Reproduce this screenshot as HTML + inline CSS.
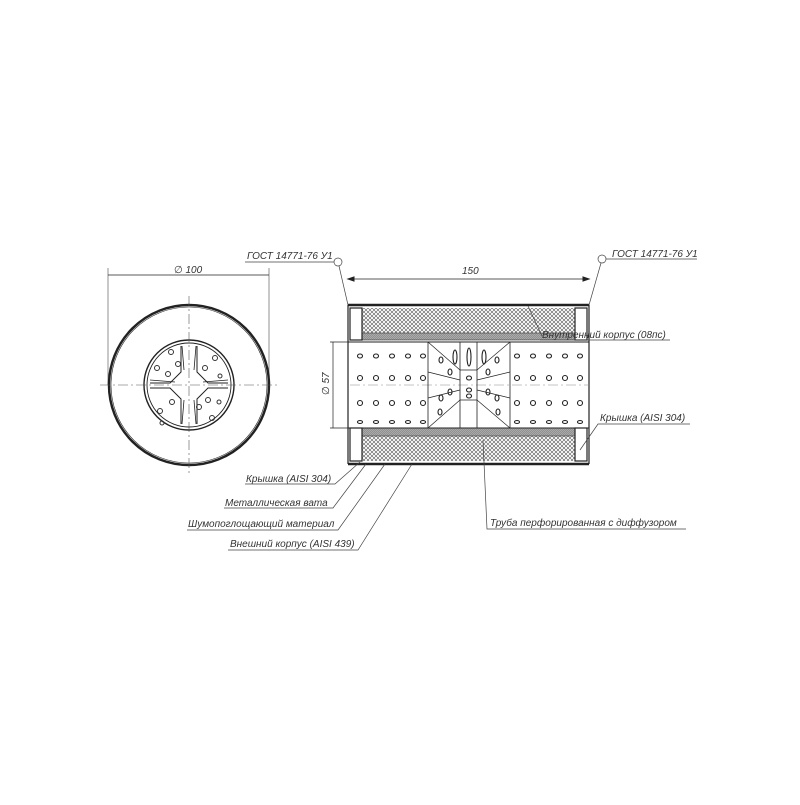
<!DOCTYPE html>
<html><head><meta charset="utf-8"><style>
html,body{margin:0;padding:0;background:#fff}
svg text{font-family:"Liberation Sans","DejaVu Sans",sans-serif;font-style:italic;font-size:10px;fill:#333}
</style></head><body>
<svg width="800" height="800" viewBox="0 0 800 800" xmlns="http://www.w3.org/2000/svg">
<defs>
<pattern id="x" width="4" height="4" patternUnits="userSpaceOnUse">
<path d="M0 0L4 4M4 0L0 4" stroke="#555" stroke-width="0.6"/>
</pattern>
<pattern id="g" width="2" height="2" patternUnits="userSpaceOnUse">
<rect width="2" height="2" fill="#aaa"/><path d="M0 2L2 0" stroke="#777" stroke-width="0.5"/>
</pattern>
</defs>
<rect width="800" height="800" fill="#fff"/>
<g stroke="#222" fill="none">
<circle cx="189" cy="385" r="80" stroke-width="2.5"/>
<circle cx="189" cy="385" r="78" stroke-width="0.6"/>
<circle cx="189" cy="385" r="45" stroke-width="1.4"/>
<circle cx="189" cy="385" r="42" stroke-width="0.9"/>
<path d="M100 385H278M189 296V474" stroke="#555" stroke-width="0.6" stroke-dasharray="10 3 2 3"/>
<path d="M108 275H269" stroke-width="0.7"/>
<path d="M108 268V385M269 268V385" stroke-width="0.5"/>
<path d="M150 383L170 383L181 372L181 346M228 383L208 383L197 372L197 346M150 388L170 388L181 399L181 424M228 388L208 388L197 399L197 424" stroke-width="1"/>
<path d="M182 346L184 370M196 346L194 370M182 424L184 400M196 424L194 400M150 380L175 382M228 380L203 382" stroke-width="0.8"/>
</g>
<g fill="none" stroke="#333" stroke-width="1">
<circle cx="171" cy="352" r="2.5"/><circle cx="157" cy="368" r="2.5"/><circle cx="168" cy="374" r="2.5"/><circle cx="178" cy="364" r="2.5"/>
<circle cx="215" cy="358" r="2.5"/><circle cx="205" cy="368" r="2.5"/><circle cx="220" cy="376" r="2"/>
<circle cx="172" cy="402" r="2.5"/><circle cx="160" cy="411" r="2.5"/><circle cx="162" cy="423" r="2"/>
<circle cx="208" cy="400" r="2.5"/><circle cx="199" cy="407" r="2.5"/><circle cx="212" cy="418" r="2.5"/><circle cx="219" cy="402" r="2"/>
</g>
<text x="174" y="273">∅ 100</text>
<rect x="362" y="308" width="213" height="25" fill="url(#x)"/>
<rect x="362" y="436" width="213" height="25" fill="url(#x)"/>
<rect x="362" y="333" width="213" height="7" fill="url(#g)" stroke="#333" stroke-width="0.6"/>
<rect x="362" y="428" width="213" height="8" fill="url(#g)" stroke="#333" stroke-width="0.6"/>
<g stroke="#222" fill="none">
<path d="M348 305H589M348 464H589" stroke-width="2.4"/>
<path d="M348 305V464M589 305V464" stroke-width="1.2"/>
<rect x="350" y="308" width="12" height="32" stroke-width="1.2"/>
<rect x="575" y="308" width="12" height="32" stroke-width="1.2"/>
<rect x="350" y="428" width="12" height="33" stroke-width="1.2"/>
<rect x="575" y="428" width="12" height="33" stroke-width="1.2"/>
<path d="M348 342H589M348 428H589" stroke-width="1"/>
<path d="M350 385H589" stroke="#888" stroke-width="0.5" stroke-dasharray="10 3 2 3"/>
<path d="M428 342V428M510 342V428M460 342V428M477 342V428" stroke-width="0.8"/>
<path d="M428 342L460 370M510 342L477 370M428 428L460 400M510 428L477 400M428 372L460 380M510 372L477 380M428 398L460 390M510 398L477 390M460 370H477M460 400H477" stroke-width="0.7"/>
<path d="M348 279H589" stroke-width="0.7"/>
<path d="M348 279l6 -2v4zM589 279l-6 -2v4z" fill="#222"/>
<path d="M333 342V428M330 342H348M330 428H348" stroke-width="0.7"/>
</g>
<g fill="none" stroke="#222" stroke-width="1.1">
<g id="holes">
<ellipse cx="360" cy="356" rx="2.5" ry="2"/><ellipse cx="376" cy="356" rx="2.5" ry="2"/><ellipse cx="392" cy="356" rx="2.5" ry="2"/><ellipse cx="408" cy="356" rx="2.5" ry="2"/><ellipse cx="423" cy="356" rx="2.5" ry="2"/>
<ellipse cx="360" cy="378" rx="2.5" ry="2.5"/><ellipse cx="376" cy="378" rx="2.5" ry="2.5"/><ellipse cx="392" cy="378" rx="2.5" ry="2.5"/><ellipse cx="408" cy="378" rx="2.5" ry="2.5"/><ellipse cx="423" cy="378" rx="2.5" ry="2.5"/>
<ellipse cx="360" cy="403" rx="2.5" ry="2.5"/><ellipse cx="376" cy="403" rx="2.5" ry="2.5"/><ellipse cx="392" cy="403" rx="2.5" ry="2.5"/><ellipse cx="408" cy="403" rx="2.5" ry="2.5"/><ellipse cx="423" cy="403" rx="2.5" ry="2.5"/>
<ellipse cx="360" cy="422" rx="2.5" ry="1.5"/><ellipse cx="376" cy="422" rx="2.5" ry="1.5"/><ellipse cx="392" cy="422" rx="2.5" ry="1.5"/><ellipse cx="408" cy="422" rx="2.5" ry="1.5"/><ellipse cx="423" cy="422" rx="2.5" ry="1.5"/>
</g>
<use href="#holes" x="157"/>
<ellipse cx="455" cy="357" rx="2" ry="7"/><ellipse cx="469" cy="357" rx="2" ry="9"/><ellipse cx="484" cy="357" rx="2" ry="7"/>
<ellipse cx="441" cy="360" rx="2" ry="3"/><ellipse cx="497" cy="360" rx="2" ry="3"/><ellipse cx="450" cy="372" rx="2" ry="3"/><ellipse cx="488" cy="372" rx="2" ry="3"/>
<ellipse cx="441" cy="398" rx="2" ry="3"/><ellipse cx="497" cy="398" rx="2" ry="3"/><ellipse cx="450" cy="392" rx="2" ry="3"/><ellipse cx="488" cy="392" rx="2" ry="3"/>
<ellipse cx="440" cy="412" rx="2" ry="3"/><ellipse cx="498" cy="412" rx="2" ry="3"/>
<ellipse cx="469" cy="378" rx="2.5" ry="2"/><ellipse cx="469" cy="390" rx="2.5" ry="2"/><ellipse cx="469" cy="396" rx="2.5" ry="2"/>
</g>
<text x="462" y="274">150</text>
<text x="329" y="395" transform="rotate(-90 329 395)">∅ 57</text>
<g stroke="#444" fill="none" stroke-width="0.7">
<circle cx="338" cy="262" r="4"/><path d="M245 262H334M339 266L348 305"/>
<circle cx="602" cy="259" r="4"/><path d="M606 259H697M601 263L589 305"/>
<path d="M528 306L542 336M540 340H670"/>
<path d="M580 450L598 424H690"/>
<path d="M245 484H335L360 462M224 508H333L366 464M187 530H338L385 464M228 550H358L412 464"/>
<path d="M483 440L487 529H686"/>
</g>
<text x="247" y="259">ГОСТ 14771-76 У1</text>
<text x="612" y="257">ГОСТ 14771-76 У1</text>
<text x="542" y="338">Внутренний корпус (08пс)</text>
<text x="600" y="421">Крышка (AISI 304)</text>
<text x="246" y="482">Крышка (AISI 304)</text>
<text x="225" y="506">Металлическая вата</text>
<text x="188" y="527">Шумопоглощающий материал</text>
<text x="230" y="547">Внешний корпус (AISI 439)</text>
<text x="490" y="526">Труба перфорированная с диффузором</text>
</svg>
</body></html>
